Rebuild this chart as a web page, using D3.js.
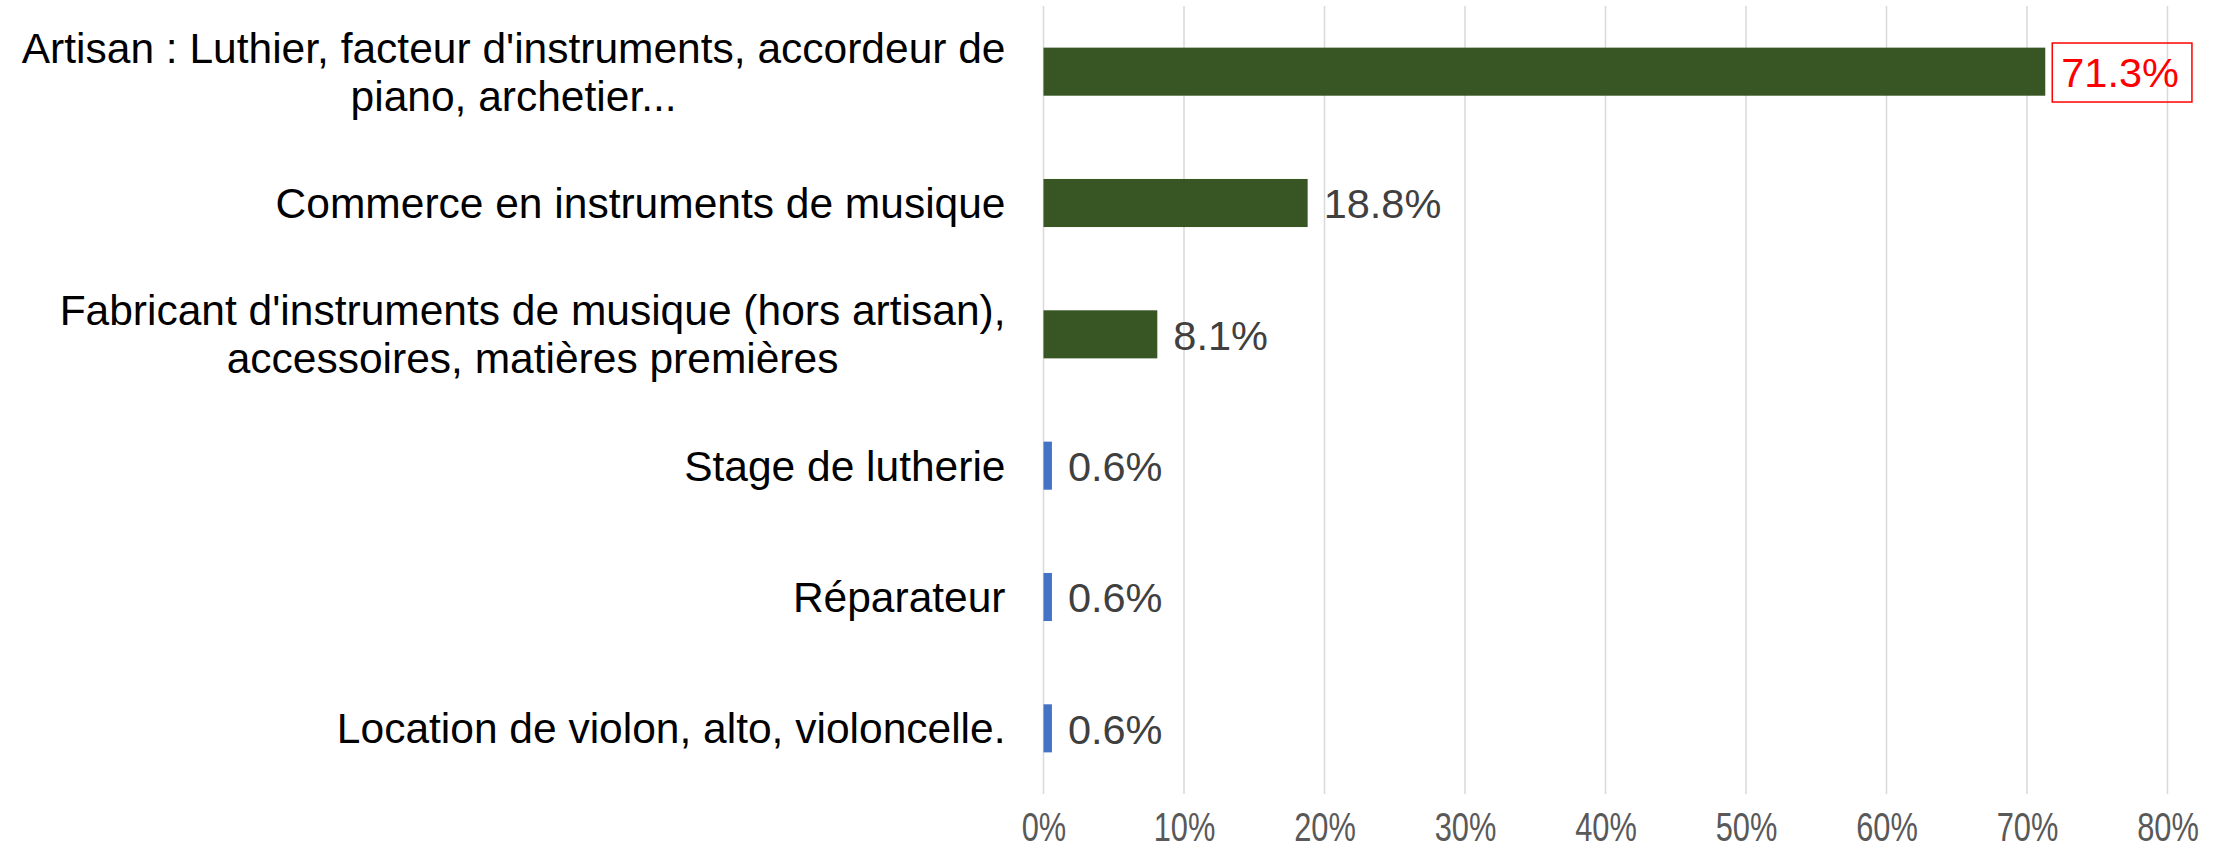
<!DOCTYPE html>
<html>
<head>
<meta charset="utf-8">
<script src="https://cdn.jsdelivr.net/npm/d3@7"></script>
<style>
  body { margin: 0; background: #fff; }
  svg { display: block; font-family: "Liberation Sans", Arial, sans-serif; }
</style>
</head>
<body>
<div id="chart"></div>
<script>
// data (line breaks as in the original labels)
const categories = [
    "Artisan : Luthier, facteur d'instruments, accordeur de\npiano, archetier...",
    "Commerce en instruments de musique",
    "Fabricant d'instruments de musique (hors artisan),\naccessoires, matières premières",
    "Stage de lutherie",
    "Réparateur",
    "Location de violon, alto, violoncelle."
];
const values = [0.713, 0.188, 0.081, 0.006, 0.006, 0.006];
const groups = ["principal", "principal", "principal", "autre", "autre", "autre"];
const tickValues = [0, 0.1, 0.2, 0.3, 0.4, 0.5, 0.6, 0.7, 0.8];
const highlighted = categories[0];

const width = 2217, height = 851;
const plot = { left: 1043.5, right: 2167.5, top: 6, bottom: 794 };

const data = categories.map((c, i) => ({ cat: c, value: values[i], group: groups[i] }));

const svg = d3.select("#chart").append("svg")
    .attr("width", width)
    .attr("height", height);

const x = d3.scaleLinear()
    .domain([0, 0.8])
    .range([plot.left, plot.right]);

const y = d3.scaleBand()
    .domain(categories)
    .range([plot.top, plot.bottom])
    .paddingInner(0.634)
    .paddingOuter(0.317);

const color = d3.scaleOrdinal()
    .domain(["principal", "autre"])
    .range(["#375623", "#4472C4"]);

// gridlines
svg.append("g")
    .selectAll("line")
    .data(tickValues)
    .join("line")
    .attr("x1", d => x(d))
    .attr("x2", d => x(d))
    .attr("y1", plot.top)
    .attr("y2", plot.bottom)
    .attr("stroke", "#d9d9d9")
    .attr("stroke-width", 1.5);

// x axis labels
const xAxis = svg.append("g")
    .attr("transform", `translate(0,${plot.bottom})`)
    .call(d3.axisBottom(x).tickValues(tickValues).tickSize(0).tickFormat(d3.format(".0%")));
xAxis.select(".domain").remove();
xAxis.selectAll("text")
    .attr("y", 47)
    .attr("dy", null)
    .attr("fill", "#595959")
    .attr("font-size", "40px")
    .attr("font-family", "'Liberation Sans', Arial, sans-serif")
    .attr("transform", "scale(0.77,1)");

// bars
svg.append("g")
    .selectAll("rect")
    .data(data)
    .join("rect")
    .attr("x", x(0))
    .attr("y", d => y(d.cat))
    .attr("width", d => x(d.value) - x(0))
    .attr("height", y.bandwidth())
    .attr("fill", d => color(d.group));

// value labels
const fmt = d3.format(".1%");
const labels = svg.append("g")
    .selectAll("text")
    .data(data)
    .join("text")
    .attr("x", d => x(d.value) + 16)
    .attr("y", d => y(d.cat) + y.bandwidth() / 2)
    .attr("dy", "0.37em")
    .attr("font-size", "41.5px")
    .attr("fill", d => d.cat === highlighted ? "#ff0000" : "#404040")
    .text(d => fmt(d.value));

labels.filter(d => d.cat === highlighted).each(function () {
    const b = this.getBBox();
    svg.append("rect")
        .attr("x", b.x - 9)
        .attr("y", b.y - 6)
        .attr("width", b.width + 22)
        .attr("height", b.height + 12)
        .attr("fill", "none")
        .attr("stroke", "#ff0000")
        .attr("stroke-width", 1.5);
});

// category labels: block right-aligned, lines centred on each other
const lineHeight = 48;
const labelRight = x(0) - 38;
categories.forEach(cat => {
    const lines = cat.split("\n");
    const cy = y(cat) + y.bandwidth() / 2 + 15;
    const t = svg.append("text")
        .attr("font-size", "42.5px")
        .attr("fill", "#000");
    const spans = lines.map((ln, i) => t.append("tspan")
        .attr("y", cy + (i - (lines.length - 1) / 2) * lineHeight)
        .text(ln));
    const maxW = d3.max(spans, s => s.node().getComputedTextLength());
    t.attr("text-anchor", "middle");
    spans.forEach(s => s.attr("x", labelRight - maxW / 2));
});
</script>
</body>
</html>
